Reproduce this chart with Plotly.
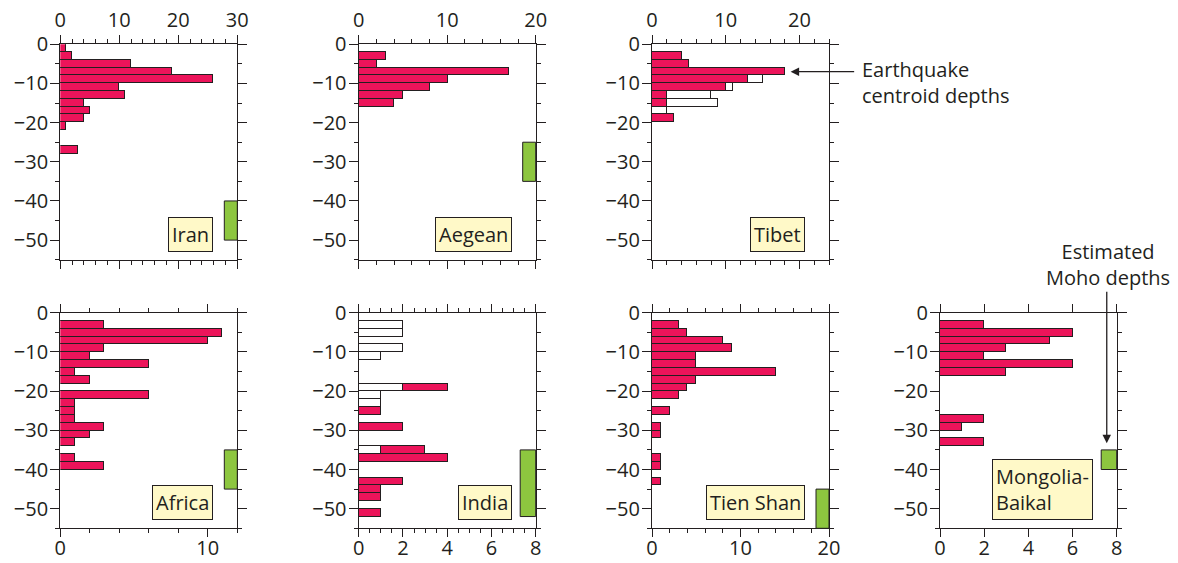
import plotly.graph_objects as go

# ---------------- data (depth bins are 2 km wide; values are bin centres in km) -------------
iran_bins = [1, 3, 5, 7, 9, 11, 13, 15, 17, 19, 21, 27]
iran_counts = [1, 2, 12, 19, 26, 10, 11, 4, 5, 4, 1, 3]
iran_moho = [40, 50]

aegean_bins = [3, 5, 7, 9, 11, 13, 15]
aegean_counts = [3, 2, 17, 10, 8, 5, 4]
aegean_moho = [25, 35]

tibet_bins = [3, 5, 7, 9, 11, 13, 15, 17, 19]
tibet_red = [4, 5, 18, 13, 10, 2, 2, 0, 3]
tibet_white = [0, 0, 0, 2, 1, 6, 7, 2, 0]

africa_bins = [3, 5, 7, 9, 11, 13, 15, 17, 21, 23, 25, 27, 29, 31, 33, 37, 39]
africa_counts = [3, 11, 10, 3, 2, 6, 1, 2, 6, 1, 1, 1, 3, 2, 1, 1, 3]
africa_moho = [35, 45]

india_bins = [3, 5, 9, 11, 19, 21, 23, 25, 29, 35, 37, 43, 45, 47, 51]
india_white = [2, 2, 2, 1, 2, 1, 1, 0, 0, 1, 0, 0, 0, 0, 0]
india_red = [0, 0, 0, 0, 2, 0, 0, 1, 2, 2, 4, 2, 1, 1, 1]
india_moho = [35, 52]

tienshan_bins = [3, 5, 7, 9, 11, 13, 15, 17, 19, 21, 25, 29, 31, 37, 39, 43]
tienshan_counts = [3, 4, 8, 9, 5, 5, 14, 5, 4, 3, 2, 1, 1, 1, 1, 1]
tienshan_moho = [45, 55]

mongolia_bins = [3, 5, 7, 9, 11, 13, 15, 27, 29, 33]
mongolia_counts = [2, 6, 5, 3, 2, 6, 3, 2, 1, 2]
mongolia_moho = [35, 40]

region_names = ["Iran", "Aegean", "Tibet", "Africa", "India", "Tien Shan", "Mongolia-<br>Baikal"]
x_maxima = [30, 20, 24, 12, 8, 20, 8]
x_major = [10, 10, 10, 10, 2, 10, 2]
x_minor = [2, 2, 2, 2, 0.5, 2, None]
depth_ticks = [0, -10, -20, -30, -40, -50]

# ---------------- style ----------------
W, H = 1178, 563
INK = "#231F20"
RED = "#EC145A"
WHITE = "#FFFFFF"
GREEN = "#8DC63F"
LABEL_FILL = "#FFF9C8"
FONT = "Open Sans"

cols_px = [(60.3, 237.3), (358.7, 535.7), (652.0, 829.0), (940.0, 1116.7)]
rows_px = [(44.3, 259.7), (312.7, 528.3)]
cells = [(0, 0), (0, 1), (0, 2), (1, 0), (1, 1), (1, 2), (1, 3)]
moho_w_px = [13, 13, 13, 13, 15.5, 13, 15.5]

panels = [
    dict(bins=iran_bins, series=[(iran_counts, RED)], moho=iran_moho),
    dict(bins=aegean_bins, series=[(aegean_counts, RED)], moho=aegean_moho),
    dict(bins=tibet_bins, series=[(tibet_red, RED), (tibet_white, WHITE)], moho=None),
    dict(bins=africa_bins, series=[(africa_counts, RED)], moho=africa_moho),
    dict(bins=india_bins, series=[(india_white, WHITE), (india_red, RED)], moho=india_moho),
    dict(bins=tienshan_bins, series=[(tienshan_counts, RED)], moho=tienshan_moho),
    dict(bins=mongolia_bins, series=[(mongolia_counts, RED)], moho=mongolia_moho),
]

fig = go.Figure()
layout_axes = {}
annotations = []
shapes = []

for i, p in enumerate(panels, start=1):
    r, c = cells[i - 1]
    xa = "x" if i == 1 else f"x{i}"
    ya = "y" if i == 1 else f"y{i}"
    xkey = "xaxis" if i == 1 else f"xaxis{i}"
    ykey = "yaxis" if i == 1 else f"yaxis{i}"
    x0p, x1p = cols_px[c]
    y0p, y1p = rows_px[r]
    plot_w = x1p - x0p
    plot_h = y1p - y0p

    for vals, fill in p["series"]:
        fig.add_trace(go.Bar(
            orientation="h",
            y=[-b for b in p["bins"]],
            x=[v if v else None for v in vals],
            width=2,
            marker=dict(color=fill, line=dict(color=INK, width=1.1)),
            xaxis=xa, yaxis=ya, showlegend=False, hoverinfo="skip",
        ))

    if x_minor[i - 1]:
        minor = dict(dtick=x_minor[i - 1], ticks="outside", ticklen=4, tickcolor=INK, tickwidth=1.1)
    else:
        minor = dict(ticks="")
    layout_axes[xkey] = dict(
        domain=[x0p / W, x1p / W], range=[0, x_maxima[i - 1]], anchor=ya,
        side="top" if r == 0 else "bottom",
        tickmode="linear", tick0=0, dtick=x_major[i - 1],
        ticks="outside", ticklen=8, tickwidth=1.2, tickcolor=INK,
        minor=minor,
        showline=True, linecolor=INK, linewidth=1.3, mirror="ticks",
        showgrid=False, zeroline=False, automargin=False,
        tickfont=dict(size=20, color=INK, family=FONT),
        ticklabelstandoff=0 if r == 0 else -6,
        fixedrange=True,
    )
    layout_axes[ykey] = dict(
        domain=[1 - y1p / H, 1 - y0p / H], range=[-55, 0], anchor=xa,
        tickmode="array", tickvals=depth_ticks,
        ticks="outside", ticklen=9, tickwidth=1.2, tickcolor=INK,
        minor=dict(dtick=5, tick0=0, ticks="outside", ticklen=4, tickcolor=INK, tickwidth=1.1),
        showline=True, linecolor=INK, linewidth=1.3, mirror="ticks",
        showgrid=False, zeroline=False, automargin=False,
        tickfont=dict(size=20, color=INK, family=FONT),
        ticklabelstandoff=-2,
        fixedrange=True,
    )

    if p["moho"]:
        shapes.append(dict(
            type="rect", xref=f"{xa} domain", yref=ya,
            x0=1 - moho_w_px[i - 1] / plot_w, x1=1,
            y0=-p["moho"][0], y1=-p["moho"][1],
            fillcolor=GREEN, line=dict(color=INK, width=1), layer="above",
        ))

    annotations.append(dict(
        text=region_names[i - 1], xref=f"{xa} domain", yref=f"{ya} domain",
        x=1 - 24 / plot_w, y=8 / plot_h, xanchor="right", yanchor="bottom",
        showarrow=False, align="left",
        bgcolor=LABEL_FILL, bordercolor=INK, borderwidth=1, borderpad=3,
        font=dict(size=20, color=INK, family=FONT),
    ))

# callout: earthquake centroid depths (points at Tibet histogram peak)
annotations.append(dict(
    text="", xref="x3", yref="y3", x=18.8, y=-7, ax=65, ay=0,
    showarrow=True, arrowhead=2, arrowsize=1.3, arrowwidth=1.3, arrowcolor=INK,
))
annotations.append(dict(
    text="Earthquake<br>centroid depths", xref="paper", yref="paper",
    x=860 / W, y=1 - 83 / H, xanchor="left", yanchor="middle", align="left",
    showarrow=False, font=dict(size=20, color=INK, family=FONT),
))
# callout: estimated Moho depths (points at Mongolia-Baikal Moho box)
annotations.append(dict(
    text="", xref="x7", yref="y7", x=7.55, y=-33.3, ax=0, ay=-153,
    showarrow=True, arrowhead=2, arrowsize=1.3, arrowwidth=1.3, arrowcolor=INK,
))
annotations.append(dict(
    text="Estimated<br>Moho depths", xref="paper", yref="paper",
    x=1108 / W, y=1 - 265 / H, xanchor="center", yanchor="middle", align="center",
    showarrow=False, font=dict(size=20, color=INK, family=FONT),
))

fig.update_layout(
    width=W, height=H,
    margin=dict(l=0, r=0, t=0, b=0, autoexpand=False),
    paper_bgcolor="white", plot_bgcolor="white",
    barmode="stack", bargap=0,
    font=dict(family=FONT, color=INK),
    annotations=annotations, shapes=shapes,
    **layout_axes,
)

fig.write_html("out.html", config={"displayModeBar": False},
               post_script="document.body.style.margin='0';")
